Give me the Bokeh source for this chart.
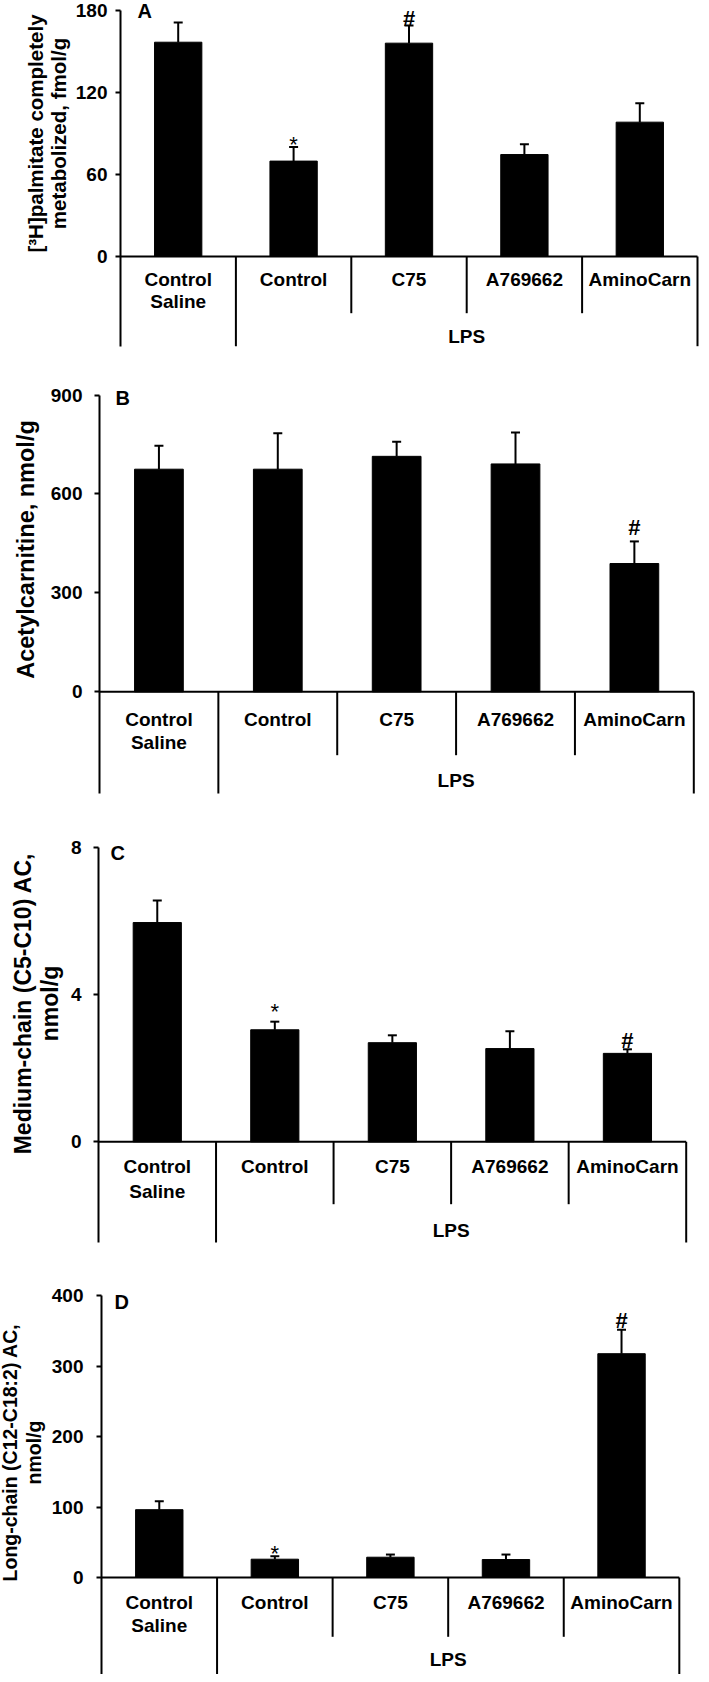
import numpy as np
from bokeh.plotting import figure
from bokeh.layouts import column, row
from bokeh.models import FixedTicker, Range1d
from bokeh.core.properties import value
from bokeh.embed import file_html
from bokeh.resources import INLINE

# ---------------- data ----------------
categories = ["Control\nSaline", "Control", "C75", "A769662", "AminoCarn"]
group_name = "LPS"

palmitate_mean = [156.8, 69.8, 156.1, 74.6, 98.3]
palmitate_sem = [14.4, 10.3, 13.0, 7.6, 13.9]
palmitate_marks = ["", "*", "#", "", ""]
palmitate_ticks = [0, 60, 120, 180]
palmitate_title = ["[³H]palmitate completely", "metabolized, fmol/g"]

acetyl_mean = [675, 675, 714, 691, 389]
acetyl_sem = [71, 109, 44, 95, 67]
acetyl_marks = ["", "", "", "", "#"]
acetyl_ticks = [0, 300, 600, 900]
acetyl_title = ["Acetylcarnitine, nmol/g"]

medium_mean = [5.95, 3.04, 2.69, 2.53, 2.40]
medium_sem = [0.60, 0.22, 0.20, 0.47, 0.11]
medium_marks = ["", "*", "", "", "#"]
medium_ticks = [0, 4, 8]
medium_title = ["Medium-chain (C5-C10) AC,", "nmol/g"]

long_mean = [96.3, 26.0, 28.8, 25.5, 317.8]
long_sem = [11.8, 4.2, 3.8, 7.1, 34.0]
long_marks = ["", "*", "", "", "#"]
long_ticks = [0, 100, 200, 300, 400]
long_title = ["Long-chain (C12-C18:2) AC,", "nmol/g"]

panel_letters = ["A", "B", "C", "D"]

# ---------------- layout / style (page pixel positions) ----------------
PAGE_MARGIN = 8
PAGE_W = 701
FONT = "Liberation Sans"

LAYOUTS = [
    dict(fig=(8, 370), axis_x=128.3, x_right=705, ytop=18, y0=264, short=320.7, long=353.7,
         lab1=287.3, lab_dy=21.7, lps=344, letter=(145, 18.5), title_w=72, title_x=[43, 66],
         title_yc=141, title_size="20.5px", standoff=8, mark_gap={1: 16, 2: 15}),
    dict(fig=(370, 805), axis_x=107.3, x_right=701.3, ytop=402.5, y0=699.3, short=762.7, long=801,
         lab1=726.7, lab_dy=23.3, lps=788, letter=(123, 405.5), title_w=44, title_x=[33],
         title_yc=557, title_size="23.5px", standoff=12, mark_gap={4: 22}),
    dict(fig=(805, 1290), axis_x=106, x_right=693.7, ytop=854.5, y0=1149.3, short=1211.7, long=1250,
         lab1=1174.3, lab_dy=25, lps=1238, letter=(118, 860), title_w=64, title_x=[30, 57],
         title_yc=1011, title_size="23px", standoff=12, mark_gap={1: 23, 4: 17}),
    dict(fig=(1290, 1682), axis_x=106, x_right=686.7, ytop=1303.3, y0=1585, short=1644.3, long=1682,
         lab1=1610, lab_dy=22.7, lps=1666.7, letter=(119, 1309), title_w=48, title_x=[17, 41],
         title_yc=1460, title_size="19.5px", standoff=13, mark_gap={1: 16, 4: 17}),
]

MARK_SIZE = 22
MARK_CENTER = {"*": 0.6, "#": 0.35}   # visual centre above baseline, in em
MARK_STYLE = {"*": "normal", "#": "bold"}


def make_title(title_lines, L):
    fig_top, fig_bot = L["fig"]
    tw = L["title_w"]
    tf = figure(width=tw, height=fig_bot - fig_top,
                x_range=Range1d(PAGE_MARGIN, PAGE_MARGIN + tw),
                y_range=Range1d(fig_bot, fig_top),
                x_axis_location=None, y_axis_location=None, toolbar_location=None,
                output_backend="svg", min_border_left=0, min_border_right=0,
                min_border_top=0, min_border_bottom=0)
    tf.outline_line_color = None
    tf.grid.visible = False
    tf.text(x=L["title_x"][:len(title_lines)], y=[L["title_yc"]] * len(title_lines),
            text=title_lines, angle=np.pi / 2, text_align="center", text_baseline="middle",
            text_font=value(FONT), text_font_size=L["title_size"], text_font_style="bold",
            text_color="black")
    return tf


def make_panel(mean, sem, marks, ticks, letter, L):
    fig_top, fig_bot = L["fig"]
    h = fig_bot - fig_top
    tw = L["title_w"]
    left0 = PAGE_MARGIN + tw
    border = int(round(L["axis_x"] - left0))
    ax = left0 + border
    cw = (L["x_right"] - ax) / 5.0
    top_val = ticks[-1]
    ppu = (L["y0"] - L["ytop"]) / top_val

    def yv(py):
        return (L["y0"] - py) / ppu

    def xv(px):
        return (px - ax) / cw

    p = figure(width=PAGE_W - tw, height=h,
               x_range=Range1d(0, xv(PAGE_MARGIN + PAGE_W)),
               y_range=Range1d(yv(fig_bot), yv(fig_top)),
               x_axis_location=None, toolbar_location=None, output_backend="svg",
               min_border_left=border, min_border_right=0, min_border_top=0, min_border_bottom=0)
    p.outline_line_color = None
    p.xgrid.visible = False
    p.ygrid.visible = False

    ya = p.yaxis[0]
    ya.ticker = FixedTicker(ticks=ticks)
    ya.bounds = (yv(L["long"]), top_val)
    ya.axis_line_width = 2
    ya.axis_line_color = "black"
    ya.major_tick_line_width = 2
    ya.major_tick_line_color = "black"
    ya.major_tick_out = 5
    ya.major_tick_in = 0
    ya.minor_tick_line_color = None
    ya.major_label_text_font = FONT
    ya.major_label_text_font_size = "19px"
    ya.major_label_text_font_style = "bold"
    ya.major_label_text_color = "black"
    ya.major_label_standoff = L["standoff"]

    xs = [i + 0.5 for i in range(len(categories))]
    tops = [m + s for m, s in zip(mean, sem)]

    p.vbar(x=xs, top=mean, bottom=0, width=0.41, fill_color="black", line_color="black")
    p.segment(x0=xs, y0=mean, x1=xs, y1=tops, line_color="black", line_width=2)
    cap = 4.5 / cw
    p.segment(x0=[x - cap for x in xs], y0=tops, x1=[x + cap for x in xs], y1=tops,
              line_color="black", line_width=2)

    # category axis frame
    n = len(categories)
    p.segment(x0=[0], y0=[0], x1=[n], y1=[0], line_color="black", line_width=2)
    div_x = list(range(1, n + 1))
    div_end = [yv(L["long"]) if (d == 1 or d == n) else yv(L["short"]) for d in div_x]
    p.segment(x0=div_x, y0=[0] * n, x1=div_x, y1=div_end, line_color="black", line_width=2)

    tx, ty, tt = [], [], []
    for i, cat in enumerate(categories):
        for k, line in enumerate(cat.split("\n")):
            tx.append(xs[i])
            ty.append(yv(L["lab1"] + k * L["lab_dy"]))
            tt.append(line)
    p.text(x=tx, y=ty, text=tt, text_font=value(FONT), text_font_size="19px",
           text_font_style="bold", text_align="center", text_baseline="middle", text_color="black")
    p.text(x=[(1 + n) / 2.0], y=[yv(L["lps"])], text=[group_name], text_font=value(FONT),
           text_font_size="19px", text_font_style="bold", text_align="center",
           text_baseline="middle", text_color="black")

    # significance marks
    for i, mk in enumerate(marks):
        if not mk:
            continue
        err_px = L["y0"] - tops[i] * ppu
        centre_px = err_px - L["mark_gap"][i]
        base_px = centre_px + MARK_CENTER[mk] * MARK_SIZE
        p.text(x=[xs[i]], y=[yv(base_px)], text=[mk], text_font=value(FONT),
               text_font_size=f"{MARK_SIZE}px", text_font_style=MARK_STYLE[mk],
               text_align="center", text_baseline="alphabetic", text_color="black")

    # panel letter
    lx, ly = L["letter"]
    p.text(x=[xv(lx)], y=[yv(ly)], text=[letter], text_font=value(FONT), text_font_size="20px",
           text_font_style="bold", text_align="left", text_baseline="middle", text_color="black")
    return p


specs = [
    (palmitate_mean, palmitate_sem, palmitate_marks, palmitate_ticks, palmitate_title),
    (acetyl_mean, acetyl_sem, acetyl_marks, acetyl_ticks, acetyl_title),
    (medium_mean, medium_sem, medium_marks, medium_ticks, medium_title),
    (long_mean, long_sem, long_marks, long_ticks, long_title),
]

rows = []
for (mean, sem, marks, ticks, title), letter, L in zip(specs, panel_letters, LAYOUTS):
    rows.append(row(make_title(title, L), make_panel(mean, sem, marks, ticks, letter, L), spacing=0))

layout = column(*rows, spacing=0)
open("out.html", "w").write(file_html(layout, INLINE))
